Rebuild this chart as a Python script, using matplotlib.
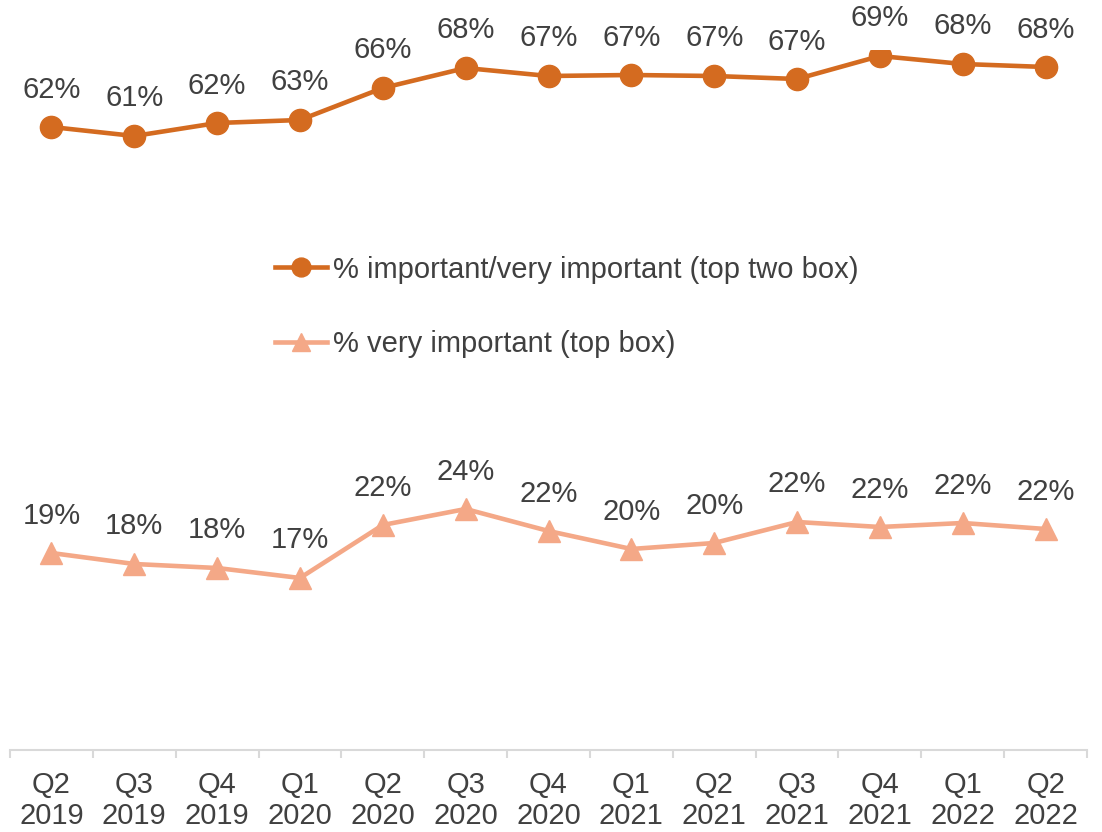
import matplotlib.pyplot as plt
import numpy as np

plt.rcParams['font.family'] = ['Liberation Sans', 'DejaVu Sans']

quarters = ['Q2\n2019', 'Q3\n2019', 'Q4\n2019', 'Q1\n2020', 'Q2\n2020', 'Q3\n2020', 'Q4\n2020',
            'Q1\n2021', 'Q2\n2021', 'Q3\n2021', 'Q4\n2021', 'Q1\n2022', 'Q2\n2022']
top_two = [61.9, 61.0, 62.3, 62.6, 65.8, 67.8, 67.0, 67.1, 67.0, 66.7, 69.0, 68.2, 67.9]
top_box = [19.3, 18.2, 17.8, 16.8, 22.1, 23.7, 21.5, 19.7, 20.3, 22.4, 21.9, 22.3, 21.7]

dark = '#D46B20'
light = '#F4A887'
txt = '#404040'

fig = plt.figure(figsize=(11.02, 8.32), dpi=100)
ax = fig.add_axes([10 / 1102, 82 / 832, 1077 / 1102, 700 / 832])

x = np.arange(len(quarters))
ax.plot(x, top_two, color=dark, lw=3.3, marker='o', ms=16,
        label='% important/very important (top two box)')
ax.plot(x, top_box, color=light, lw=3.3, marker='^', ms=16,
        label='% very important (top box)')

for xi, v in zip(x, top_two):
    ax.annotate(f'{round(v)}%', (xi, v), xytext=(0, 27), textcoords='offset points',
                ha='center', va='center', fontsize=21, color=txt)
for xi, v in zip(x, top_box):
    ax.annotate(f'{round(v)}%', (xi, v), xytext=(0, 27), textcoords='offset points',
                ha='center', va='center', fontsize=21, color=txt)

ax.set_xlim(-0.5, len(quarters) - 0.5)
ax.set_ylim(-0.4, 69.6)
ax.set_yticks([])
for s in ['top', 'right', 'left']:
    ax.spines[s].set_visible(False)
ax.spines['bottom'].set_color('#D9D9D9')
ax.spines['bottom'].set_linewidth(1.5)

ax.set_xticks(x)
ax.set_xticklabels(quarters, fontsize=21, color=txt, linespacing=1.15)
ax.set_xticks(np.arange(-0.5, len(quarters)), minor=True)
ax.tick_params(axis='x', which='major', length=0, pad=15)
ax.tick_params(axis='x', which='minor', length=6, color='#D9D9D9', width=1.5)

leg = ax.legend(loc='center', bbox_to_anchor=(0.517, 0.633), frameon=False, fontsize=21,
                labelcolor=txt, handlelength=1.8, handletextpad=0.2, labelspacing=1.6,
                markerscale=0.85)

fig.savefig('out.png', dpi=100)
